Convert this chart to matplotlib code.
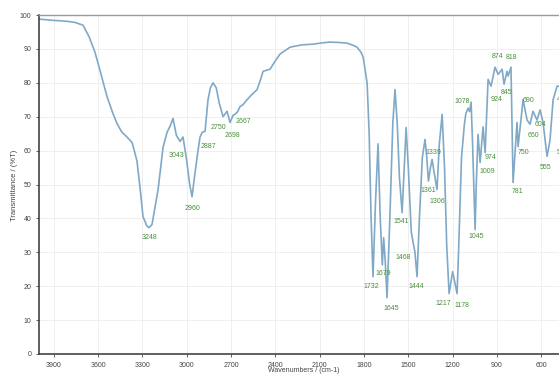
import matplotlib
matplotlib.use("Agg")
import matplotlib.pyplot as plt

plt.rcParams['font.family'] = ['Liberation Sans', 'DejaVu Sans']

wavenumber = [4000, 3950, 3900, 3858, 3800, 3756, 3702, 3660, 3621, 3580, 3540, 3500, 3472, 3440,
              3404, 3370, 3337, 3316, 3296, 3270, 3255, 3235, 3194, 3160, 3133, 3110, 3093, 3070,
              3045, 3025, 3000, 2980, 2964, 2948, 2930, 2910, 2895, 2876, 2856, 2840, 2822, 2800,
              2780, 2754, 2727, 2707, 2685, 2673, 2655, 2639, 2620, 2592, 2560, 2524, 2500, 2483,
              2436, 2400, 2368, 2301, 2220, 2145, 2080, 2030, 1970, 1915, 1870, 1847, 1820, 1806,
              1790, 1779, 1765, 1752, 1739, 1722, 1705, 1690, 1676, 1667, 1657, 1644, 1625, 1605,
              1590, 1575, 1560, 1542, 1528, 1515, 1500, 1480, 1468, 1455, 1441, 1425, 1405, 1387,
              1375, 1364, 1350, 1339, 1325, 1306, 1290, 1271, 1255, 1240, 1224, 1200, 1170, 1160,
              1140, 1120, 1110, 1095, 1085, 1075, 1065, 1048, 1040, 1028, 1014, 994, 980, 960,
              940, 913, 892, 865, 852, 832, 825, 805, 791, 764, 757, 723, 696, 676, 656, 629,
              608, 588, 561, 541, 520, 493, 470]
transmittance = [98.8, 98.6, 98.4, 98.3, 98.1, 97.8, 97.0, 93.5, 89.0, 82.5, 76.0, 71.0, 68.0, 65.5,
                 64.0, 62.4, 57.0, 49.0, 40.5, 37.8, 37.3, 38.2, 48.5, 61.0, 65.4, 67.5, 69.5, 64.5,
                 62.7, 64.0, 57.0, 50.0, 46.4, 52.0, 58.0, 64.0, 65.4, 65.7, 75.0, 78.5, 80.0, 78.5,
                 74.0, 70.0, 71.6, 68.3, 70.5, 70.7, 71.5, 73.0, 73.5, 75.0, 76.5, 78.0, 81.0, 83.4,
                 84.0, 86.5, 88.5, 90.5, 91.2, 91.4, 91.8, 92.0, 91.9, 91.7, 91.0, 90.5, 89.0, 87.6,
                 83.0, 80.0, 65.0, 40.0, 22.8, 45.0, 62.0, 40.0, 26.3, 34.3, 28.0, 16.6, 40.0, 68.0,
                 78.0, 68.0, 52.0, 41.7, 55.0, 66.8, 55.0, 36.0, 33.0, 30.0, 22.8, 40.0, 58.0, 63.3,
                 58.0, 51.0, 55.0, 57.4, 53.5, 48.5, 62.0, 70.7, 55.0, 32.0, 17.8, 24.3, 17.8, 30.0,
                 58.0, 68.0, 71.0, 72.5, 71.5, 74.3, 62.0, 36.7, 50.0, 64.8, 56.5, 67.0, 59.4, 81.0,
                 79.0, 84.6, 82.5, 84.0, 79.6, 83.4, 82.0, 84.6, 50.6, 68.3, 61.2, 75.0, 69.0, 67.8,
                 71.6, 69.0, 72.0, 68.3, 58.3, 63.0, 75.0, 79.0, 79.0]

peak_labels = ['3248', '3043', '2960', '2887', '2750', '2698', '2667', '1732', '1679', '1645',
               '1541', '1468', '1444', '1361', '1339', '1306', '1217', '1178', '1045', '1078',
               '1009', '974', '924', '874', '818', '845', '781', '750', '690', '660', '604',
               '555', '520', '470']
label_x = [3249, 3066, 2964, 2856, 2788, 2687, 2619, 1752, 1671, 1617,
           1549, 1536, 1448, 1366, 1333, 1306, 1265, 1137, 1041, 1137,
           967, 946, 906, 893, 798, 838, 764, 723, 689, 656, 608,
           574, 455, 452]
label_y = [34.3, 58.6, 42.9, 61.2, 66.9, 64.5, 68.6, 19.8, 23.7, 13.3,
           39.0, 28.4, 19.8, 48.2, 59.5, 45.0, 14.8, 14.2, 34.6, 74.6,
           53.8, 58.0, 75.1, 87.9, 87.6, 77.2, 47.9, 59.5, 74.9, 64.5, 67.8,
           55.0, 59.5, 75.0]

xticks = [3900, 3600, 3300, 3000, 2700, 2400, 2100, 1800, 1500, 1200, 900, 600]
yticks = [0, 10, 20, 30, 40, 50, 60, 70, 80, 90, 100]

fig = plt.figure(figsize=(5.59, 3.74), dpi=100)
ax = fig.add_axes([39/559, 1-354/374, (559-39)/559, (354-15)/374])
ax.plot(wavenumber, transmittance, color='#7fa9c6', lw=1.2)
ax.set_xlim(4000, 480)
ax.set_ylim(0, 100)
ax.set_xticks(xticks)
ax.set_yticks(yticks)
ax.tick_params(labelsize=5, colors='#444444', length=2, width=0.6)
ax.grid(True, color='#ececec', lw=0.6)
ax.set_axisbelow(True)
ax.spines['right'].set_visible(False)
ax.spines['left'].set_color('#444444')
ax.spines['left'].set_linewidth(1.2)
ax.spines['bottom'].set_color('#444444')
ax.spines['bottom'].set_linewidth(1.2)
ax.spines['top'].set_color('#9a9a9a')
ax.spines['top'].set_linewidth(1.0)

for t, x, y in zip(peak_labels, label_x, label_y):
    ax.text(x, y, t, fontsize=5, color='#4a8f3c', ha='center', va='center', clip_on=False)

fig.text(15/559, 1-185/374, 'Transmittance / (%T)', rotation=90, fontsize=5.5, color='#444444',
         ha='center', va='center')
fig.text(304/559, 1-371/374, 'Wavenumbers / (cm-1)', fontsize=5, color='#444444',
         ha='center', va='center')

fig.savefig('out.png', dpi=100)
